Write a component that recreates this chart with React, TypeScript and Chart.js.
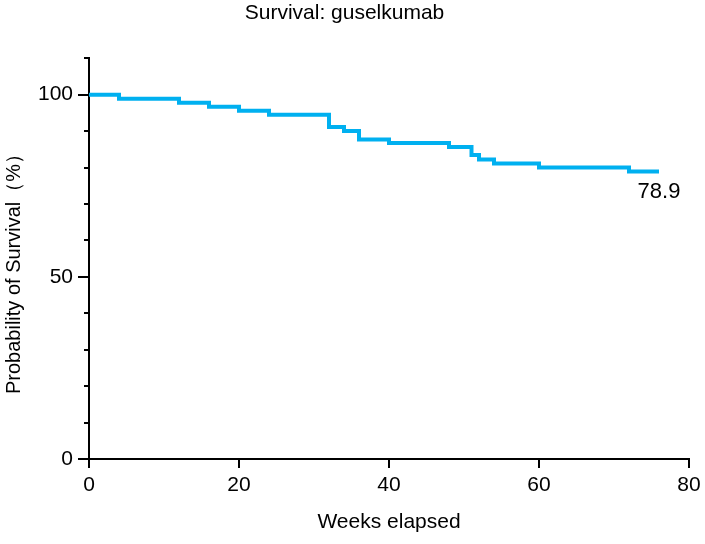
import React, { useEffect, useRef } from "react";
import { Chart, registerables } from "chart.js";

Chart.register(...registerables);

const weeks = [0, 4, 12, 16, 20, 24, 32, 34, 36, 40, 48, 51, 52, 54, 60, 72, 76];
const survival = [100, 98.9, 97.8, 96.7, 95.6, 94.5, 91.1, 90.0, 87.7, 86.7, 85.6, 83.4, 82.2, 81.1, 80.0, 78.9, 78.9];
const xTicks = [0, 20, 40, 60, 80];
const yTicks = [0, 10, 20, 30, 40, 50, 60, 70, 80, 90, 100, 110];
const yLabelled = [0, 50, 100];
const endLabel = "78.9";
const titleText = "Survival: guselkumab";
const xTitle = "Weeks elapsed";
const yTitle = "Probability of Survival（%）";

const FONT = "'Liberation Sans', Arial, sans-serif";

const axisDeco = {
  id: "axisDeco",
  afterDraw(chart: any) {
    const ctx = chart.ctx;
    const xs = chart.scales.x;
    const ys = chart.scales.y;
    const area = chart.chartArea;
    ctx.save();
    ctx.strokeStyle = "#000";
    ctx.lineWidth = 2;
    ctx.lineCap = "butt";
    for (const v of yTicks) {
      const py = Math.round(ys.getPixelForValue(v));
      const len = yLabelled.includes(v) ? 11 : 5;
      ctx.beginPath();
      ctx.moveTo(area.left - len, py);
      ctx.lineTo(area.left, py);
      ctx.stroke();
    }
    for (const v of xTicks) {
      const px = Math.round(xs.getPixelForValue(v));
      ctx.beginPath();
      ctx.moveTo(px, area.bottom);
      ctx.lineTo(px, area.bottom + 9);
      ctx.stroke();
    }
    // end label
    const lastX = xs.getPixelForValue(weeks[weeks.length - 1]);
    const lastY = ys.getPixelForValue(survival[survival.length - 1]);
    ctx.fillStyle = "#000";
    ctx.font = `22px ${FONT}`;
    ctx.textAlign = "center";
    ctx.textBaseline = "middle";
    ctx.fillText(endLabel, lastX, lastY + 20);
    // y title
    ctx.font = `20px ${FONT}`;
    ctx.translate(14, 269);
    ctx.rotate(-Math.PI / 2);
    ctx.fillText(yTitle, 0, 0);
    ctx.restore();
  },
};

export default function App() {
  const ref = useRef<HTMLCanvasElement | null>(null);
  useEffect(() => {
    if (!ref.current) return;
    const chart = new Chart(ref.current, {
      type: "line",
      data: {
        datasets: [
          {
            data: weeks.map((w, i) => ({ x: w, y: survival[i] })),
            borderColor: "#00B0F0",
            borderWidth: 4,
            pointRadius: 0,
            stepped: "before",
            fill: false,
            borderJoinStyle: "miter",
          },
        ],
      },
      options: {
        responsive: false,
        animation: false,
        layout: { padding: { top: 0, right: 16, left: 0, bottom: 0 } },
        plugins: {
          legend: { display: false },
          tooltip: { enabled: false },
          title: {
            display: true,
            text: titleText,
            color: "#000",
            font: { family: FONT, size: 21, weight: "normal" },
            padding: { top: 1, bottom: 32 },
          },
        },
        scales: {
          x: {
            type: "linear",
            min: 0,
            max: 80,
            afterBuildTicks: (s: any) => {
              s.ticks = xTicks.map((v) => ({ value: v }));
            },
            ticks: {
              color: "#000",
              font: { family: FONT, size: 21 },
              padding: 14,
              maxRotation: 0,
              autoSkip: false,
            },
            grid: { display: false, drawTicks: false },
            border: { display: true, color: "#000", width: 2 },
            title: {
              display: true,
              text: xTitle,
              color: "#000",
              font: { family: FONT, size: 21 },
              padding: { top: 0, bottom: 9 },
            },
            afterFit: (s: any) => {
              s.height = 85;
              s.paddingLeft = 0;
              s.paddingRight = 0;
            },
          },
          y: {
            type: "linear",
            min: 0,
            max: 110,
            afterBuildTicks: (s: any) => {
              s.ticks = yTicks.map((v) => ({ value: v }));
            },
            ticks: {
              color: "#000",
              font: { family: FONT, size: 21 },
              padding: 16,
              autoSkip: false,
              callback: (v: any) => (yLabelled.includes(Number(v)) ? String(v) : ""),
            },
            grid: { display: false, drawTicks: false },
            border: { display: true, color: "#000", width: 2 },
            afterFit: (s: any) => {
              s.width = 89;
              s.paddingTop = 0;
              s.paddingBottom = 0;
            },
          },
        },
      },
      plugins: [axisDeco],
    } as any);
    return () => chart.destroy();
  }, []);
  return (
    <div style={{ position: "fixed", left: 0, top: 0, width: 705, height: 544, background: "#fff" }}>
      <canvas ref={ref} width={705} height={544} />
    </div>
  );
}
